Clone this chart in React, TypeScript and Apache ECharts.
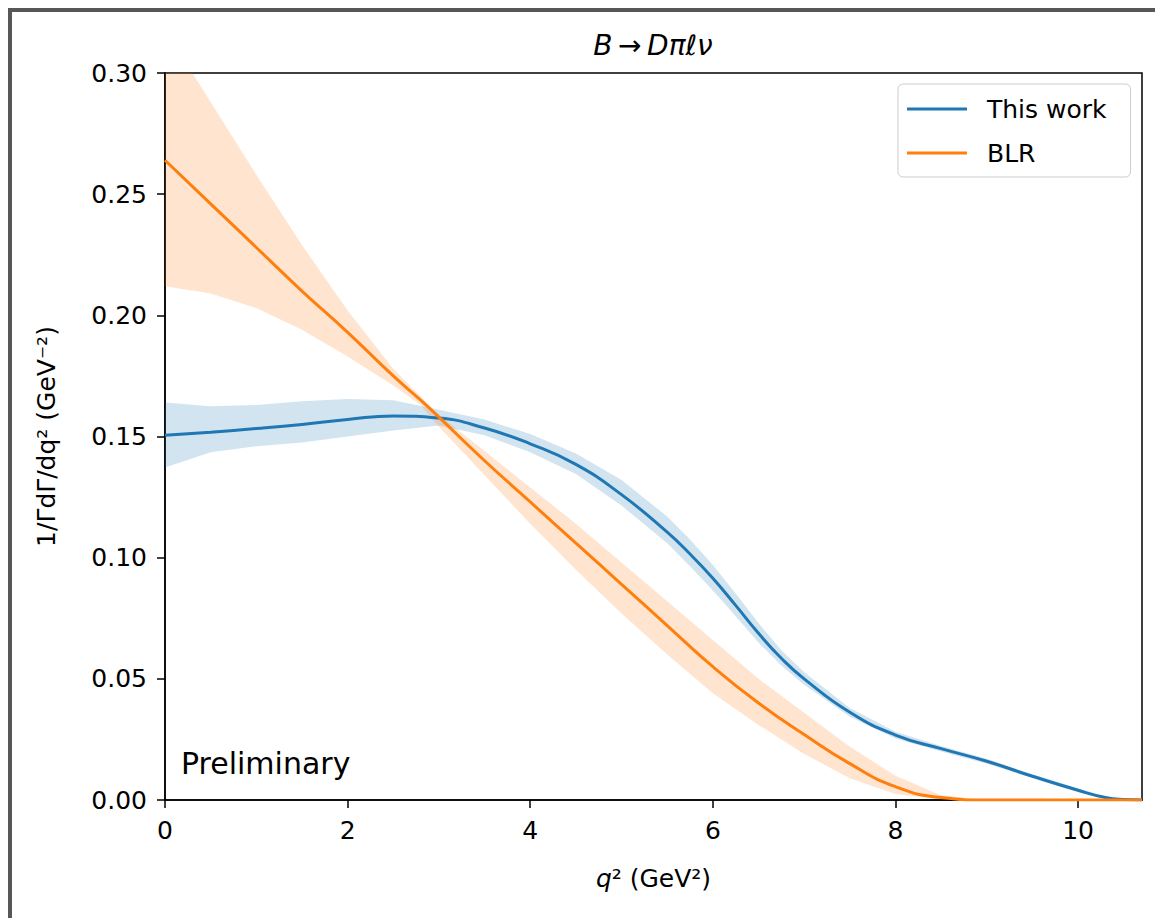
import React, { useEffect, useRef } from "react";
import * as echarts from "echarts";

// ---- Data ----
const xTicks = [0, 2, 4, 6, 8, 10];
const yTicks = [0, 0.05, 0.1, 0.15, 0.2, 0.25, 0.3];

// This work (blue)
const blueQ = [0, 0.5, 1, 1.5, 2, 2.5, 3, 3.5, 4, 4.5, 5, 5.5, 5.75, 6, 6.25, 6.5, 6.75, 7, 7.5, 8, 8.5, 9, 9.5, 10, 10.3, 10.5, 10.7];
const blueCentral = [0.1505, 0.1518, 0.1533, 0.155, 0.157, 0.1585, 0.1576, 0.1535, 0.147, 0.1385, 0.126, 0.1105, 0.1015, 0.0915, 0.0803, 0.0688, 0.0585, 0.05, 0.0362, 0.0268, 0.0212, 0.016, 0.0098, 0.004, 0.001, 0.0002, 0];
const blueUpper = [0.164, 0.1625, 0.163, 0.1645, 0.1655, 0.165, 0.161, 0.157, 0.151, 0.143, 0.132, 0.117, 0.1075, 0.097, 0.0852, 0.073, 0.0618, 0.0527, 0.038, 0.0282, 0.0223, 0.017, 0.0106, 0.0048, 0.0014, 0.0003, 0];
const blueLower = [0.1372, 0.1435, 0.146, 0.1475, 0.15, 0.1525, 0.1545, 0.1505, 0.1435, 0.1345, 0.1215, 0.106, 0.0965, 0.0865, 0.0758, 0.065, 0.0555, 0.0476, 0.0344, 0.0254, 0.02, 0.015, 0.009, 0.0032, 0.0006, 0, 0];

// BLR (orange)
const orangeQ = [0, 0.5, 1, 1.5, 2, 2.5, 2.8, 3, 3.5, 4, 4.5, 5, 5.5, 6, 6.5, 7, 7.5, 8, 8.5, 9, 9.5, 10, 10.7];
const orangeCentral = [0.264, 0.246, 0.228, 0.21, 0.193, 0.175, 0.165, 0.158, 0.14, 0.123, 0.106, 0.089, 0.072, 0.055, 0.04, 0.027, 0.015, 0.0055, 0.001, 0, 0, 0, 0];
const orangeUpper = [0.318, 0.288, 0.258, 0.229, 0.202, 0.178, 0.1665, 0.159, 0.144, 0.129, 0.114, 0.098, 0.082, 0.066, 0.05, 0.036, 0.022, 0.01, 0.002, 0, 0, 0, 0];
const orangeLower = [0.212, 0.209, 0.203, 0.194, 0.183, 0.171, 0.163, 0.154, 0.134, 0.114, 0.095, 0.077, 0.06, 0.044, 0.031, 0.019, 0.009, 0.0025, 0.0002, 0, 0, 0, 0];

const BLUE = "#1f77b4";
const ORANGE = "#ff7f0e";
const FONT = "DejaVu Sans";

const pairs = (xs: number[], ys: number[]) => xs.map((x, i) => [x, ys[i]]);
const triples = (xs: number[], up: number[], lo: number[]) => xs.map((x, i) => [x, up[i], lo[i]]);

function bandSeries(name: string, xs: number[], up: number[], lo: number[], color: string, z: number) {
  return {
    name,
    type: "custom",
    silent: true,
    z,
    data: triples(xs, up, lo),
    encode: { x: 0, y: [1, 2] },
    renderItem: (params: any, api: any) => {
      if (params.dataIndexInside !== 0) return null;
      const n = params.dataInsideLength;
      const top: number[][] = [];
      const bot: number[][] = [];
      for (let i = 0; i < n; i++) {
        const q = api.value(0, i);
        top.push(api.coord([q, api.value(1, i)]));
        bot.push(api.coord([q, api.value(2, i)]));
      }
      const cs = params.coordSys;
      return {
        type: "group",
        clipPath: { type: "rect", shape: { x: cs.x, y: cs.y, width: cs.width, height: cs.height } },
        children: [
          {
            type: "polyline",
            shape: { points: top.concat(bot.reverse()), smooth: 0 },
            style: { fill: color, opacity: 0.2, stroke: "none" },
          },
        ],
      };
    },
  };
}

export default function App() {
  const ref = useRef<HTMLDivElement>(null);
  useEffect(() => {
    if (!ref.current) return;
    const chart = echarts.init(ref.current, undefined, { renderer: "svg" });
    chart.setOption({
      animation: false,
      backgroundColor: "#ffffff",
      textStyle: { fontFamily: FONT },
      grid: {
        left: 165,
        top: 73,
        right: 13,
        bottom: 118,
        show: true,
        borderColor: "#000",
        borderWidth: 1.5,
        backgroundColor: "transparent",
      },
      legend: {
        orient: "vertical",
        left: 898,
        top: 84,
        padding: [10, 24, 9, 9],
        itemGap: 14,
        itemWidth: 60,
        itemHeight: 3,
        backgroundColor: "rgba(255,255,255,0.85)",
        borderColor: "#cccccc",
        borderWidth: 1,
        borderRadius: 5,
        textStyle: { fontFamily: FONT, fontSize: 25, color: "#000", lineHeight: 30, padding: [0, 0, 0, 15] },
        data: [
          { name: "This work", icon: "rect" },
          { name: "BLR", icon: "rect" },
        ],
      },
      xAxis: {
        type: "value",
        min: 0,
        max: 10.7,
        interval: 2,
        splitLine: { show: false },
        axisLine: { show: true, onZero: false, lineStyle: { color: "#000", width: 1.5 } },
        axisTick: { show: true, inside: false, length: 8, lineStyle: { color: "#000", width: 1.5 }, customValues: xTicks },
        axisLabel: {
          customValues: xTicks,
          margin: 18,
          fontFamily: FONT,
          fontSize: 25,
          color: "#000",
          formatter: (v: number) => String(v),
        },
        name: "{i|q}² (GeV²)",
        nameLocation: "middle",
        nameGap: 66,
        nameTextStyle: {
          fontFamily: FONT,
          fontSize: 25,
          color: "#000",
          rich: { i: { fontFamily: FONT, fontSize: 25, fontStyle: "italic", color: "#000" } },
        },
      },
      yAxis: {
        type: "value",
        min: 0,
        max: 0.3,
        interval: 0.05,
        splitLine: { show: false },
        axisLine: { show: true, lineStyle: { color: "#000", width: 1.5 } },
        axisTick: { show: true, inside: false, length: 8, lineStyle: { color: "#000", width: 1.5 }, customValues: yTicks },
        axisLabel: {
          customValues: yTicks,
          margin: 18,
          fontFamily: FONT,
          fontSize: 25,
          color: "#000",
          formatter: (v: number) => v.toFixed(2),
        },
        name: "1/ΓdΓ/dq² (GeV⁻²)",
        nameLocation: "middle",
        nameRotate: 90,
        nameGap: 106,
        nameTextStyle: { fontFamily: FONT, fontSize: 25, color: "#000" },
      },
      graphic: [
        {
          type: "polyline",
          shape: { points: [[10, 918], [10, 10], [1155, 10]] },
          style: { stroke: "#575757", lineWidth: 4, fill: "none" },
          silent: true,
        },
        {
          type: "text",
          x: 653,
          y: 45,
          style: {
            text: "B\u2009→\u2009Dπℓν",
            fontFamily: FONT,
            fontSize: 28,
            fontStyle: "italic",
            fill: "#000",
            align: "center",
            verticalAlign: "middle",
          },
        },
        {
          type: "text",
          x: 181,
          y: 763,
          style: {
            text: "Preliminary",
            fontFamily: FONT,
            fontSize: 30,
            fill: "#000",
            align: "left",
            verticalAlign: "middle",
          },
        },
      ],
      series: [
        bandSeries("blueBand", blueQ, blueUpper, blueLower, BLUE, 1),
        {
          name: "This work",
          type: "line",
          data: pairs(blueQ, blueCentral),
          symbol: "none",
          smooth: 0.5,
          color: BLUE,
          lineStyle: { color: BLUE, width: 3 },
          z: 3,
        },
        bandSeries("orangeBand", orangeQ, orangeUpper, orangeLower, ORANGE, 2),
        {
          name: "BLR",
          type: "line",
          data: pairs(orangeQ, orangeCentral),
          symbol: "none",
          smooth: 0.5,
          color: ORANGE,
          lineStyle: { color: ORANGE, width: 3 },
          z: 4,
        },
      ],
    });
    return () => chart.dispose();
  }, []);
  return (
    <div
      ref={ref}
      style={{ position: "absolute", left: 0, top: 0, width: 1155, height: 918, background: "#fff" }}
    />
  );
}
